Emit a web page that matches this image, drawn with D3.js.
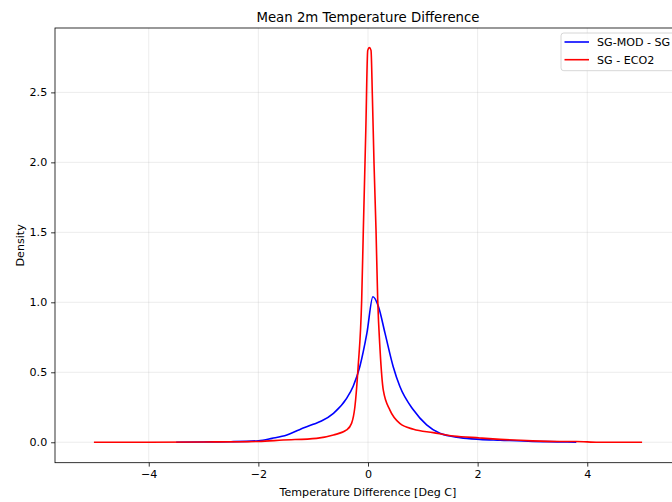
<!DOCTYPE html>
<html>
<head>
<meta charset="utf-8">
<script src="https://cdn.jsdelivr.net/npm/d3@7"></script>
<style>
  body { margin: 0; background: #fff; }
  svg { display: block; font-family: "DejaVu Sans", sans-serif; }
</style>
</head>
<body>
<div id="chart"></div>
<script>
// values
const seriesNames = ["SG-MOD - SG", "SG - ECO2"];
const seriesColors = ["#0000ff", "#ff0000"];

const blueX = [-3.5, -3.0, -2.5, -2.0, -1.75, -1.48, -1.25, -1.0, -0.85, -0.63, -0.39, -0.27, -0.15, -0.02, 0.09, 0.19, 0.31, 0.46, 0.58, 0.83, 1.07, 1.31, 1.68, 2.04, 2.41, 3.0, 3.5, 3.8];
const blueY = [0.0, 0.002, 0.004, 0.011, 0.028, 0.052, 0.09, 0.128, 0.152, 0.207, 0.314, 0.40, 0.54, 0.78, 1.04, 0.97, 0.78, 0.54, 0.40, 0.23, 0.124, 0.064, 0.033, 0.021, 0.015, 0.006, 0.003, 0.0];

const redX = [-5.0, -4.0, -3.0, -2.0, -1.55, -0.94, -0.63, -0.39, -0.30, -0.24, -0.18, -0.115, -0.085, -0.04, -0.005, 0.025, 0.055, 0.08, 0.11, 0.146, 0.177, 0.22, 0.28, 0.40, 0.58, 0.83, 1.19, 1.56, 2.04, 2.41, 3.0, 3.5, 3.8, 4.2, 5.0];
const redY = [0.0, 0.0, 0.002, 0.006, 0.016, 0.028, 0.052, 0.088, 0.135, 0.25, 0.54, 1.02, 1.52, 2.23, 2.80, 2.82, 2.80, 2.47, 1.99, 1.52, 1.02, 0.66, 0.37, 0.23, 0.135, 0.093, 0.069, 0.045, 0.031, 0.021, 0.01, 0.006, 0.006, 0.0, 0.0];

const xTicks = [-4, -2, 0, 2, 4];
const yTicks = [0, 0.5, 1.0, 1.5, 2.0, 2.5];

const W = 672, H = 502;
const plotLeft = 55, plotRight = 681, plotTop = 28, plotBottom = 462.7;

const x = d3.scaleLinear().domain([-5.71, 5.71]).range([plotLeft, plotRight]);
const y = d3.scaleLinear().domain([-0.146, 2.96]).range([plotBottom, plotTop]);

const svg = d3.select("#chart").append("svg")
    .attr("width", W)
    .attr("height", H);

// grid
svg.append("g").selectAll("line").data(xTicks).join("line")
    .attr("x1", d => x(d)).attr("x2", d => x(d))
    .attr("y1", plotTop).attr("y2", plotBottom)
    .attr("stroke", "#b0b0b0").attr("stroke-opacity", 0.3).attr("stroke-width", 0.8);
svg.append("g").selectAll("line").data(yTicks).join("line")
    .attr("x1", plotLeft).attr("x2", plotRight)
    .attr("y1", d => y(d)).attr("y2", d => y(d))
    .attr("stroke", "#b0b0b0").attr("stroke-opacity", 0.3).attr("stroke-width", 0.8);

// axes
const xAxis = d3.axisBottom(x).tickValues(xTicks).tickSize(3.9).tickPadding(3.6)
    .tickFormat(d => d3.format("d")(d).replace("-", "\u2212"));
const gx = svg.append("g").attr("transform", `translate(0,${plotBottom})`).call(xAxis);
const yAxis = d3.axisLeft(y).tickValues(yTicks).tickSize(3.9).tickPadding(3.9)
    .tickFormat(d3.format(".1f"));
const gy = svg.append("g").attr("transform", `translate(${plotLeft},0)`).call(yAxis);

[gx, gy].forEach(g => {
    g.select(".domain").remove();
    g.selectAll(".tick line").attr("stroke", "#000").attr("stroke-width", 0.8);
    g.selectAll(".tick text").attr("fill", "#000").style("font-size", "11.1px")
        .style("font-family", "DejaVu Sans, sans-serif");
});

// spines (right one falls outside the window)
svg.append("rect")
    .attr("x", plotLeft).attr("y", plotTop)
    .attr("width", plotRight - plotLeft).attr("height", plotBottom - plotTop)
    .attr("fill", "none").attr("stroke", "#000").attr("stroke-width", 0.8);

// lines
const line = d3.line().curve(d3.curveMonotoneX).x(d => x(d[0])).y(d => y(d[1]));
const blueData = blueX.map((v, i) => [v, blueY[i]]);
const redData = redX.map((v, i) => [v, redY[i]]);

svg.append("path").datum(blueData).attr("d", line)
    .attr("fill", "none").attr("stroke", seriesColors[0]).attr("stroke-width", 1.6);
svg.append("path").datum(redData).attr("d", line)
    .attr("fill", "none").attr("stroke", seriesColors[1]).attr("stroke-width", 1.6);

// title and labels
svg.append("text").text("Mean 2m Temperature Difference")
    .attr("x", (plotLeft + plotRight) / 2).attr("y", 21.5)
    .attr("text-anchor", "middle").style("font-size", "13.3px");
svg.append("text").text("Temperature Difference [Deg C]")
    .attr("x", (plotLeft + plotRight) / 2).attr("y", 495.5)
    .attr("text-anchor", "middle").style("font-size", "11.1px");
svg.append("text").text("Density")
    .attr("transform", `translate(23.5,${(plotTop + plotBottom) / 2}) rotate(-90)`)
    .attr("text-anchor", "middle").style("font-size", "11.1px");

// legend
const legend = svg.append("g").attr("transform", "translate(561,33)");
legend.append("rect")
    .attr("width", 130).attr("height", 37.7).attr("rx", 2.8)
    .attr("fill", "#fff").attr("fill-opacity", 0.8)
    .attr("stroke", "#cccccc").attr("stroke-width", 0.8);
seriesNames.forEach((name, i) => {
    legend.append("line")
        .attr("x1", 3.5).attr("x2", 28)
        .attr("y1", 9 + i * 17.7).attr("y2", 9 + i * 17.7)
        .attr("stroke", seriesColors[i]).attr("stroke-width", 1.6);
    legend.append("text").text(name)
        .attr("x", 36).attr("y", 13 + i * 17.7)
        .style("font-size", "11.1px");
});
</script>
</body>
</html>
